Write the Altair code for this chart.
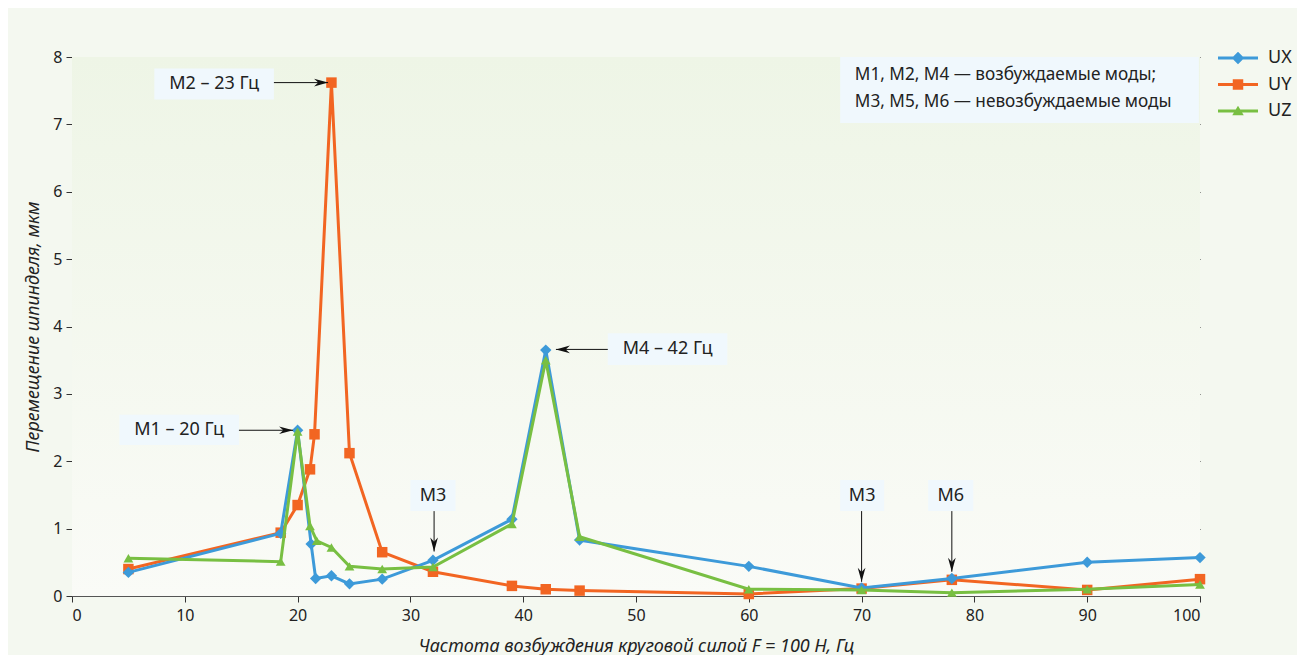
import altair as alt
import pandas as pd

# ---- data ----
UX_x = [5, 18.5, 20, 21.2, 21.6, 23, 24.6, 27.5, 32, 39, 42, 45, 60, 70, 78, 90, 100]
UX_y = [0.35, 0.93, 2.46, 0.77, 0.26, 0.30, 0.18, 0.25, 0.53, 1.14, 3.65, 0.83, 0.44, 0.12, 0.26, 0.50, 0.57]
UY_x = [5, 18.5, 20, 21.1, 21.5, 23, 24.6, 27.5, 32, 39, 42, 45, 60, 70, 78, 90, 100]
UY_y = [0.40, 0.94, 1.35, 1.88, 2.40, 7.62, 2.12, 0.65, 0.36, 0.15, 0.10, 0.08, 0.03, 0.11, 0.24, 0.09, 0.25]
UZ_x = [5, 18.5, 20, 21.1, 21.7, 23, 24.6, 27.5, 32, 39, 42, 45, 60, 70, 78, 90, 100]
UZ_y = [0.56, 0.51, 2.44, 1.04, 0.82, 0.72, 0.44, 0.40, 0.43, 1.07, 3.50, 0.88, 0.10, 0.09, 0.05, 0.10, 0.17]

series_names = ["UX", "UY", "UZ"]
series_colors = ["#3d9ad9", "#f26522", "#78bf42"]

# annotation boxes (data units)
ann_text = ["М2 – 23 Гц", "М1 – 20 Гц", "М4 – 42 Гц", "М3", "М3", "М6"]
ann_x0 = [7.3, 4.2, 47.5, 30.0, 68.1, 75.9]
ann_x1 = [17.9, 14.8, 58.1, 34.0, 72.0, 79.9]
ann_y0 = [7.37, 2.24, 3.43, 1.26, 1.26, 1.26]
ann_y1 = [7.83, 2.69, 3.90, 1.72, 1.72, 1.72]
# arrows (data units)
arr_x0 = [17.9, 14.8, 47.5, 32.1, 70.0, 78.0]
arr_y0 = [7.62, 2.46, 3.66, 1.26, 1.26, 1.26]
arr_x1 = [22.7, 19.6, 42.9, 32.1, 70.0, 78.0]
arr_y1 = [7.62, 2.46, 3.66, 0.66, 0.21, 0.36]
arr_dir = ["right", "right", "left", "down", "down", "down"]

note_lines = ["М1, М2, М4 — возбуждаемые моды;", "М3, М5, М6 — невозбуждаемые моды"]
note_y = [7.73, 7.33]
note_box = {"x0": 68.1, "x1": 99.9, "y0": 7.02, "y1": 8.0}

x_title = "Частота возбуждения круговой силой F = 100 Н, Гц"
y_title = "Перемещение шпинделя, мкм"

FONT = "Noto Sans"

# ---- build tables ----
rows = []
for name, xs, ys in [("UX", UX_x, UX_y), ("UY", UY_x, UY_y), ("UZ", UZ_x, UZ_y)]:
    for i, (a, b) in enumerate(zip(xs, ys)):
        rows.append({"series": name, "f": a, "u": b, "order": i})
df = pd.DataFrame(rows)

ann = pd.DataFrame({
    "text": ann_text, "x0": ann_x0, "x1": ann_x1, "y0": ann_y0, "y1": ann_y1,
})
ann["xc"] = (ann["x0"] + ann["x1"]) / 2
ann["yc"] = (ann["y0"] + ann["y1"]) / 2
arr = pd.DataFrame({"x0": arr_x0, "y0": arr_y0, "x1": arr_x1, "y1": arr_y1, "dir": arr_dir})
note = pd.DataFrame({"text": note_lines, "y": note_y, "x": [note_box["x0"] + 1.3] * 2})
notebox = pd.DataFrame([note_box])

xscale = alt.Scale(domain=[0, 100], nice=False, zero=False)
yscale = alt.Scale(domain=[0, 8], nice=False)
color_scale = alt.Scale(domain=series_names, range=series_colors)

legend_paths = [
    "M-4,-0.3H4V0.3H-4Z M0,-1.25L1.25,0L0,1.25L-1.25,0Z",
    "M-4,-0.3H4V0.3H-4Z M-1.05,-1.05H1.05V1.05H-1.05Z",
    "M-4,-0.3H4V0.3H-4Z M0,-1.05L1.15,0.85H-1.15Z",
]

legend = alt.Legend(
    title=None, orient="none", legendX=1157, legendY=-8,
    labelFont=FONT, labelFontSize=18, labelColor="#222",
    labelOffset=21, rowPadding=8.5, padding=0, symbolSize=100,
    symbolStrokeWidth=0, symbolOpacity=1,
)

bg = alt.Chart(notebox).mark_rect(
    fill=alt.Gradient(gradient="linear", x1=0, x2=0, y1=0, y2=1,
                      stops=[alt.GradientStop(offset=0, color="#eef5e6"),
                             alt.GradientStop(offset=1, color="#fafbf7")])
).encode(x=alt.datum(0, scale=xscale), x2=alt.datum(100), y=alt.datum(8, scale=yscale), y2=alt.datum(0))

base = alt.Chart(df)
x_enc = alt.X("f:Q", scale=xscale, title=x_title,
              axis=alt.Axis(values=list(range(0, 101, 10)), grid=False, tickSize=6,
                            labelPadding=5, titleY=50, titleBaseline="middle"))
y_enc = alt.Y("u:Q", scale=yscale, title=y_title,
              axis=alt.Axis(values=list(range(0, 9)), format="d", grid=True, tickSize=6, labelPadding=4,
                            titleX=-39, titleY=269.5, titleBaseline="middle", titleAngle=-90,
                            titleAlign="center"))

# legend-only layer (no rows drawn; legend from explicit scale domains)
legend_layer = base.transform_filter("false").mark_point(filled=True, opacity=1).encode(
    x=x_enc, y=y_enc,
    color=alt.Color("series:N", scale=color_scale, legend=legend),
    shape=alt.Shape("series:N", scale=alt.Scale(domain=series_names, range=legend_paths), legend=legend),
)

series_layers = []
for name, shape, size in [("UY", "square", 110), ("UX", "diamond", 130), ("UZ", "triangle-up", 95)]:
    sub = base.transform_filter(alt.datum.series == name)
    line = sub.mark_line(strokeWidth=3).encode(
        x="f:Q", y="u:Q", order="order:Q",
        color=alt.Color("series:N", scale=color_scale, legend=legend))
    pts = sub.mark_point(filled=True, shape=shape, size=size, opacity=1).encode(
        x="f:Q", y="u:Q",
        color=alt.Color("series:N", scale=color_scale, legend=legend))
    series_layers += [line, pts]

boxes = alt.Chart(ann).mark_rect(fill="#f0f8fd").encode(
    x="x0:Q", x2="x1:Q", y="y0:Q", y2="y1:Q")
box_text = alt.Chart(ann).mark_text(font=FONT, fontSize=18, color="#222", baseline="middle").encode(
    x="xc:Q", y="yc:Q", text="text:N")

arrow_paths = {
    "right": "M0,0L-2,-0.55L-1.4,0L-2,0.55Z",
    "left": "M0,0L2,-0.55L1.4,0L2,0.55Z",
    "down": "M0,0L-0.55,-2L0,-1.4L0.55,-2Z",
}
arrow_lines = alt.Chart(arr).mark_rule(color="#111", strokeWidth=1).encode(
    x="x0:Q", x2="x1:Q", y="y0:Q", y2="y1:Q")
arrow_layers = []
for d, p in arrow_paths.items():
    arrow_layers.append(
        alt.Chart(arr).transform_filter(alt.datum.dir == d).mark_point(
            filled=True, color="#111", size=196, opacity=1, shape=p
        ).encode(x="x1:Q", y="y1:Q")
    )

nbox = alt.Chart(notebox).mark_rect(fill="#f0f8fd").encode(
    x="x0:Q", x2="x1:Q", y="y0:Q", y2="y1:Q")
ntext = alt.Chart(note).mark_text(font=FONT, fontSize=17.2, color="#222", align="left", baseline="middle").encode(
    x="x:Q", y="y:Q", text="text:N")

chart = alt.layer(
    bg, legend_layer, *series_layers, boxes, box_text, arrow_lines, *arrow_layers, nbox, ntext
).properties(
    width=1128, height=539,
    autosize=alt.AutoSizeParams(type="none"),
    padding={"left": 64, "top": 49, "right": 97, "bottom": 59},
    background="#f4f8f0",
).configure_view(stroke=None).configure_axis(
    labelFont=FONT, labelFontSize=16, labelColor="#222",
    titleFont=FONT, titleFontSize=18, titleFontStyle="italic", titleFontWeight="normal", titleColor="#222",
    gridColor="#333", gridWidth=1, tickColor="#333", domainColor="#555", domainWidth=1,
)

chart.save("out.html", embed_options={"renderer": "svg", "actions": False})
